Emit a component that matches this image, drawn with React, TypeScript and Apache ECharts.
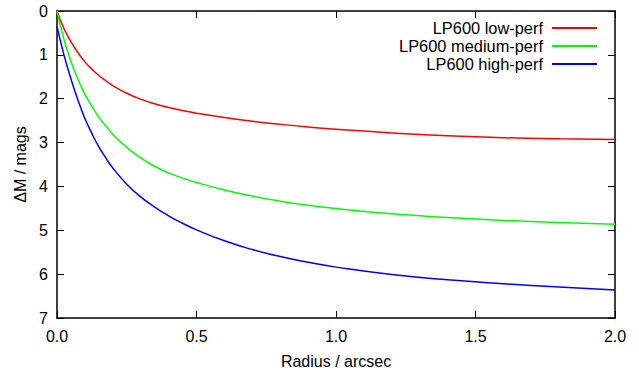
import React, { useEffect, useRef } from "react";
import * as echarts from "echarts";

const radius = [0, 0.025, 0.05, 0.075, 0.1, 0.125, 0.15, 0.175, 0.2, 0.25, 0.3, 0.35, 0.4, 0.45, 0.5, 0.6, 0.7, 0.8, 0.9, 1.0, 1.2, 1.4, 1.6, 1.8, 2.0];
const lowPerf = [0, 0.4, 0.7, 0.95, 1.16, 1.325, 1.47, 1.59, 1.7, 1.875, 2.01, 2.115, 2.2, 2.27, 2.33, 2.43, 2.515, 2.585, 2.645, 2.695, 2.78, 2.845, 2.89, 2.915, 2.93];
const mediumPerf = [0, 0.65, 1.15, 1.55, 1.9, 2.17, 2.42, 2.62, 2.81, 3.11, 3.35, 3.54, 3.69, 3.81, 3.91, 4.08, 4.22, 4.335, 4.43, 4.505, 4.625, 4.71, 4.775, 4.825, 4.865];
const highPerf = [0.35, 1.0, 1.55, 2.03, 2.45, 2.79, 3.1, 3.35, 3.58, 3.95, 4.24, 4.47, 4.67, 4.84, 4.99, 5.24, 5.44, 5.6, 5.73, 5.84, 6.01, 6.13, 6.22, 6.295, 6.36];
const seriesNames = ["LP600 low-perf", "LP600 medium-perf", "LP600 high-perf"];
const seriesColors = ["#ff0000", "#00ff00", "#0000ff"];
const xTitle = "Radius / arcsec";
const yTitle = "ΔM / mags";

const FONT = "'Liberation Sans', Arial, sans-serif";

export default function App() {
  const ref = useRef<HTMLDivElement>(null);
  useEffect(() => {
    document.body.style.margin = "0";
    if (!ref.current) return;
    const chart = echarts.init(ref.current, null, { renderer: "svg" });
    const allData = [lowPerf, mediumPerf, highPerf];
    const axisLine = { show: true, onZero: false, lineStyle: { color: "#000", width: 1.5 } };
    const tick = { show: true, inside: true, length: 7, lineStyle: { color: "#000", width: 1 } };
    chart.setOption({
      animation: false,
      backgroundColor: "#fff",
      textStyle: { fontFamily: FONT },
      grid: { left: 57, right: 24, top: 11, bottom: 58, containLabel: false },
      legend: {
        orient: "vertical",
        right: 37,
        top: 15,
        align: "right",
        icon: "rect",
        itemWidth: 45,
        itemHeight: 2,
        itemGap: 2,
        textStyle: { fontFamily: FONT, fontSize: 16.4, color: "#000", lineHeight: 16, padding: [0, 4, 0, 0] },
        data: seriesNames,
      },
      xAxis: [
        {
          type: "value",
          min: 0,
          max: 2,
          interval: 0.5,
          position: "bottom",
          name: xTitle,
          nameLocation: "middle",
          nameGap: 35,
          nameTextStyle: { fontFamily: FONT, fontSize: 16, color: "#000" },
          axisLine,
          axisTick: tick,
          splitLine: { show: false },
          axisLabel: { fontFamily: FONT, fontSize: 16, color: "#000", margin: 10, formatter: (v: number) => v.toFixed(1) },
        },
        {
          type: "value",
          min: 0,
          max: 2,
          interval: 0.5,
          position: "top",
          axisLine,
          axisTick: tick,
          splitLine: { show: false },
          axisLabel: { show: false },
        },
      ],
      yAxis: [
        {
          type: "value",
          min: 0,
          max: 7,
          interval: 1,
          inverse: true,
          position: "left",
          name: yTitle,
          nameLocation: "middle",
          nameGap: 22,
          nameTextStyle: { fontFamily: FONT, fontSize: 16, color: "#000" },
          axisLine,
          axisTick: tick,
          splitLine: { show: false },
          axisLabel: { fontFamily: FONT, fontSize: 16, color: "#000", margin: 9 },
        },
        {
          type: "value",
          min: 0,
          max: 7,
          interval: 1,
          inverse: true,
          position: "right",
          axisLine,
          axisTick: tick,
          splitLine: { show: false },
          axisLabel: { show: false },
        },
      ],
      series: seriesNames.map((name, i) => ({
        name,
        type: "line",
        xAxisIndex: 0,
        yAxisIndex: 0,
        smooth: 0.5,
        showSymbol: false,
        symbol: "none",
        clip: true,
        color: seriesColors[i],
        lineStyle: { color: seriesColors[i], width: 1.5 },
        data: radius.map((r, j) => [r, allData[i][j]]),
      })),
    });
    return () => chart.dispose();
  }, []);
  return <div ref={ref} style={{ position: "absolute", left: 0, top: 0, width: 639, height: 376 }} />;
}
